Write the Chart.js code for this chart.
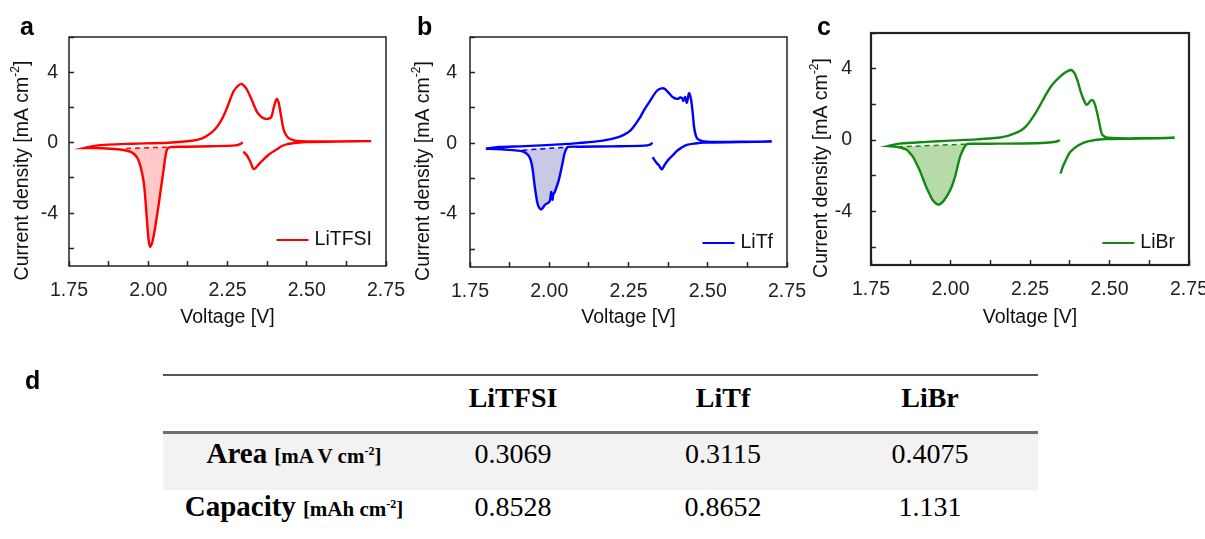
<!DOCTYPE html>
<html>
<head>
<meta charset="utf-8">
<script src="https://cdn.jsdelivr.net/npm/chart.js@4.4.1/dist/chart.umd.min.js"></script>
<style>
  body { margin: 0; background: #fff; }
  #page { position: relative; width: 1205px; height: 539px; overflow: hidden; }
  canvas { position: absolute; top: 0; }
  .letter { position: absolute; font: bold 25px/24px "Liberation Sans", Arial, sans-serif; color: #000; }
  #res { position: absolute; left: 163px; top: 374px; width: 875px; border-collapse: collapse;
         font-family: "Liberation Serif", "Times New Roman", serif; font-size: 28px; color: #000;
         border-top: 2px solid #555; }
  #res td { padding: 0; text-align: center; vertical-align: middle; }
  #res tr.hd td { height: 43px; padding-bottom: 12px; font-weight: bold; border-bottom: 3px solid #6e6e6e; }
  #res tr.r1 td { height: 39px; padding-bottom: 17px; background: #f2f2f2; }
  #res tr.r2 td { height: 30px; padding-top: 0px; }
  #res .lab { white-space: nowrap; }
  #res .lab b { font-size: 29px; }
  #res .lab span { font-size: 21px; font-weight: bold; }
  #res sup { font-size: 12px; }
</style>
</head>
<body>
<div id="page">
  <canvas id="cvA" width="420" height="330" style="left:0px"></canvas>
  <canvas id="cvB" width="420" height="330" style="left:401px"></canvas>
  <canvas id="cvC" width="403" height="330" style="left:802px"></canvas>
  <div class="letter" style="left:20px; top:14px">a</div>
  <div class="letter" style="left:417px; top:14px">b</div>
  <div class="letter" style="left:817px; top:14px">c</div>
  <div class="letter" style="left:25px; top:368px">d</div>
  <table id="res">
    <colgroup><col style="width:262px"><col style="width:176px"><col style="width:244px"><col style="width:193px"></colgroup>
    <tbody></tbody>
  </table>
</div>
<script>
// ---- panel a : LiTFSI ----
const tfsiCathV = [2.298, 2.290, 2.275, 2.20, 2.12, 2.07, 2.060, 2.054, 2.048, 2.040, 2.033, 2.020, 2.012, 2.006, 2.001, 1.996, 1.990, 1.985, 1.975, 1.965, 1.948, 1.917, 1.870, 1.832, 1.800];
const tfsiCathJ = [0.03, -0.08, -0.15, -0.20, -0.23, -0.25, -0.35, -0.8, -1.6, -2.6, -3.5, -5.0, -5.7, -5.9, -5.5, -4.43, -3.0, -2.16, -1.3, -0.85, -0.55, -0.40, -0.33, -0.30, -0.30];
const tfsiAnodV = [1.800, 1.830, 1.873, 1.950, 2.063, 2.138, 2.170, 2.190, 2.210, 2.228, 2.240, 2.250, 2.270, 2.285, 2.296, 2.310, 2.323, 2.334, 2.344, 2.355, 2.365, 2.378, 2.388, 2.396, 2.405, 2.411, 2.416, 2.422, 2.428, 2.436, 2.444, 2.460, 2.481, 2.550, 2.650, 2.703];
const tfsiAnodJ = [-0.30, -0.18, -0.11, -0.06, 0.00, 0.11, 0.25, 0.45, 0.75, 1.20, 1.62, 2.05, 2.95, 3.25, 3.33, 3.05, 2.58, 2.10, 1.72, 1.50, 1.38, 1.36, 1.45, 2.00, 2.48, 2.30, 1.82, 1.20, 0.68, 0.40, 0.25, 0.13, 0.08, 0.07, 0.08, 0.09];
const tfsiRevV = [2.703, 2.600, 2.500, 2.470, 2.439, 2.420, 2.407, 2.390, 2.376, 2.354, 2.333, 2.323, 2.312, 2.300];
const tfsiRevJ = [0.09, 0.06, 0.04, 0.00, -0.08, -0.20, -0.36, -0.55, -0.74, -1.12, -1.50, -1.12, -0.74, -0.50];
const tfsiBaseV = [1.930, 2.062];
const tfsiBaseJ = [-0.33, -0.25];

// ---- panel b : LiTf ----
const tfCathV = [2.326, 2.318, 2.300, 2.200, 2.100, 2.060, 2.055, 2.048, 2.041, 2.029, 2.018, 2.013, 2.010, 2.006, 2.001, 1.987, 1.974, 1.964, 1.955, 1.945, 1.934, 1.913, 1.871, 1.830, 1.800];
const tfCathJ = [0.02, -0.08, -0.14, -0.18, -0.20, -0.21, -0.28, -0.60, -1.21, -2.16, -2.73, -2.90, -3.20, -2.76, -3.30, -3.48, -3.75, -3.48, -2.54, -1.21, -0.68, -0.45, -0.38, -0.33, -0.32];
const tfAnodV = [1.800, 1.840, 1.923, 2.060, 2.100, 2.150, 2.186, 2.215, 2.235, 2.250, 2.265, 2.286, 2.300, 2.318, 2.339, 2.355, 2.366, 2.376, 2.390, 2.405, 2.413, 2.420, 2.423, 2.429, 2.434, 2.441, 2.447, 2.452, 2.457, 2.463, 2.470, 2.497, 2.600, 2.702];
const tfAnodJ = [-0.32, -0.22, -0.17, -0.04, 0.02, 0.10, 0.20, 0.33, 0.47, 0.62, 0.90, 1.44, 1.90, 2.39, 2.95, 3.10, 3.05, 2.86, 2.60, 2.50, 2.58, 2.52, 2.39, 2.61, 2.29, 2.82, 2.50, 1.80, 0.90, 0.40, 0.21, 0.08, 0.08, 0.09];
const tfRevV = [2.702, 2.600, 2.490, 2.460, 2.434, 2.415, 2.402, 2.390, 2.376, 2.365, 2.355, 2.347, 2.339, 2.326];
const tfRevJ = [0.09, 0.06, 0.03, -0.02, -0.10, -0.28, -0.45, -0.68, -0.93, -1.20, -1.48, -1.28, -1.12, -0.80];
const tfBaseV = [1.915, 2.052];
const tfBaseJ = [-0.40, -0.23];

// ---- panel c : LiBr ----
const brCathV = [2.344, 2.335, 2.300, 2.225, 2.150, 2.060, 2.050, 2.045, 2.038, 2.030, 2.022, 2.014, 2.004, 1.993, 1.975, 1.961, 1.945, 1.935, 1.924, 1.913, 1.903, 1.892, 1.882, 1.871, 1.861, 1.845, 1.829, 1.803];
const brCathJ = [0.00, -0.08, -0.15, -0.19, -0.20, -0.21, -0.24, -0.35, -0.60, -0.94, -1.50, -2.07, -2.60, -3.01, -3.48, -3.62, -3.39, -3.05, -2.64, -2.15, -1.69, -1.28, -0.94, -0.70, -0.53, -0.43, -0.38, -0.34];
const brAnodV = [1.803, 1.840, 1.924, 2.000, 2.082, 2.150, 2.180, 2.200, 2.220, 2.238, 2.256, 2.272, 2.288, 2.305, 2.320, 2.346, 2.362, 2.379, 2.390, 2.400, 2.409, 2.418, 2.427, 2.434, 2.440, 2.448, 2.455, 2.465, 2.472, 2.478, 2.494, 2.600, 2.705];
const brAnodJ = [-0.34, -0.20, -0.10, -0.03, 0.04, 0.13, 0.24, 0.36, 0.52, 0.78, 1.20, 1.65, 2.16, 2.70, 3.10, 3.58, 3.80, 3.93, 3.75, 3.30, 2.73, 2.30, 1.98, 2.05, 2.20, 2.22, 1.95, 1.22, 0.60, 0.28, 0.13, 0.10, 0.13];
const brRevV = [2.705, 2.600, 2.488, 2.435, 2.404, 2.377, 2.360, 2.352, 2.346];
const brRevJ = [0.13, 0.08, 0.06, -0.06, -0.28, -0.66, -1.22, -1.55, -1.88];
const brBaseV = [1.834, 2.045];
const brBaseJ = [-0.38, -0.23];

// ---- table d ----
const salts = ["LiTFSI", "LiTf", "LiBr"];
const areaVals = ["0.3069", "0.3115", "0.4075"];
const capVals = ["0.8528", "0.8652", "1.131"];

const FONT = '"Liberation Sans", Arial, sans-serif';
const FS = 19.5;

function pts(v, j) {
  return v.map((x, i) => ({ x: x, y: j[i] }));
}

// frame, legend and y title (with superscript) drawn on top
const cvDecor = {
  id: "cvDecor",
  afterDraw(chart, args, opts) {
    const { ctx, chartArea: a } = chart;
    const main = chart.data.datasets[2];
    ctx.save();
    ctx.strokeStyle = "#222";
    ctx.lineWidth = opts.frame;
    ctx.strokeRect(a.left, a.top, a.right - a.left, a.bottom - a.top);

    // legend
    ctx.font = FS + "px " + FONT;
    ctx.fillStyle = "#111";
    ctx.textAlign = "right";
    ctx.textBaseline = "middle";
    const ty = a.bottom - opts.legendDy;
    const tx = a.right - 14;
    ctx.fillText(main.label, tx, ty);
    const tw = ctx.measureText(main.label).width;
    ctx.strokeStyle = main.borderColor;
    ctx.lineWidth = 2.2;
    ctx.beginPath();
    ctx.moveTo(tx - tw - 6, ty);
    ctx.lineTo(tx - tw - 38, ty);
    ctx.stroke();

    // y title
    const t1 = "Current density [mA cm", t2 = "-2", t3 = "]";
    ctx.translate(a.left - opts.titleDx, (a.top + a.bottom) / 2 + 19);
    ctx.rotate(-Math.PI / 2);
    ctx.textAlign = "left";
    ctx.font = FS + "px " + FONT;
    const w1 = ctx.measureText(t1).width, w3 = ctx.measureText(t3).width;
    ctx.font = "12px " + FONT;
    const w2 = ctx.measureText(t2).width;
    let x = -(w1 + w2 + w3) / 2;
    ctx.font = FS + "px " + FONT;
    ctx.fillText(t1, x, 0);
    x += w1;
    ctx.font = "12px " + FONT;
    ctx.fillText(t2, x, -7);
    x += w2;
    ctx.font = FS + "px " + FONT;
    ctx.fillText(t3, x, 0);
    ctx.restore();
  },
};

function makePanel(id, p) {
  const cath = pts(p.cathV, p.cathJ);
  const trace = cath.concat(pts(p.anodV, p.anodJ), pts(p.revV, p.revJ));
  const base = pts(p.baseV, p.baseJ);
  // shaded reduction peak: cathodic points over the baseline span, closed by the baseline
  const lo = p.baseV[0], hi = p.baseV[p.baseV.length - 1];
  const shade = cath.filter((q) => q.x >= lo && q.x <= hi).concat(base);

  return new Chart(document.getElementById(id).getContext("2d"), {
    type: "scatter",
    data: {
      datasets: [
        {
          label: "",
          data: shade,
          showLine: true,
          fill: "shape",
          backgroundColor: p.fill,
          borderWidth: 0,
          pointRadius: 0,
          tension: 0.3,
          order: 3,
        },
        {
          label: "",
          data: base,
          showLine: true,
          borderColor: p.color,
          borderWidth: 1.5,
          borderDash: [5, 4],
          pointRadius: 0,
          order: 2,
        },
        {
          label: p.label,
          data: trace,
          showLine: true,
          borderColor: p.color,
          borderWidth: 2.4,
          pointRadius: 0,
          tension: 0.3,
          order: 1,
        },
      ],
    },
    options: {
      responsive: false,
      animation: false,
      layout: { padding: { top: p.top, right: p.right, left: 0, bottom: 0 } },
      plugins: {
        legend: { display: false },
        tooltip: { enabled: false },
        cvDecor: { frame: p.frame, legendDy: p.legendDy, titleDx: p.titleDx },
      },
      scales: {
        x: {
          type: "linear",
          min: 1.75,
          max: 2.75,
          border: { display: false },
          grid: { drawOnChartArea: false, tickLength: -5, tickColor: "#222", tickWidth: 1.5 },
          ticks: {
            stepSize: 0.125,
            includeBounds: false,
            autoSkip: false,
            maxRotation: 0,
            padding: 18,
            color: "#222",
            font: { size: FS, family: FONT },
            callback: (v) => (Math.abs(v * 4 - Math.round(v * 4)) < 1e-9 ? v.toFixed(2) : ""),
          },
          title: {
            display: true,
            text: "Voltage [V]",
            color: "#111",
            font: { size: FS, family: FONT },
            padding: { top: 0, bottom: 1 },
          },
          afterFit: (s) => {
            s.height = p.xh;
            s.paddingLeft = 0;
            s.paddingRight = 0;
          },
        },
        y: {
          min: -7,
          max: 6,
          border: { display: false },
          grid: { drawOnChartArea: false, tickLength: -5, tickColor: "#222", tickWidth: 1.5 },
          ticks: {
            stepSize: 2,
            includeBounds: false,
            padding: p.ypad,
            color: "#222",
            font: { size: FS, family: FONT },
            callback: (v) => (v % 4 === 0 ? String(v) : ""),
          },
          afterFit: (s) => {
            s.width = 69;
            s.paddingTop = 0;
            s.paddingBottom = 0;
          },
        },
      },
    },
    plugins: [cvDecor],
  });
}

makePanel("cvA", {
  label: "LiTFSI", color: "#ff0000", fill: "#ffc9c9",
  cathV: tfsiCathV, cathJ: tfsiCathJ, anodV: tfsiAnodV, anodJ: tfsiAnodJ, revV: tfsiRevV, revJ: tfsiRevJ,
  baseV: tfsiBaseV, baseJ: tfsiBaseJ,
  top: 37, right: 34, xh: 64, ypad: 16, frame: 1.5, legendDy: 26, titleDx: 46,
});
makePanel("cvB", {
  label: "LiTf", color: "#0000ff", fill: "#c9c9e6",
  cathV: tfCathV, cathJ: tfCathJ, anodV: tfAnodV, anodJ: tfAnodJ, revV: tfRevV, revJ: tfRevJ,
  baseV: tfBaseV, baseJ: tfBaseJ,
  top: 37, right: 34, xh: 63, ypad: 18, frame: 1.5, legendDy: 24, titleDx: 46,
});
makePanel("cvC", {
  label: "LiBr", color: "#128a12", fill: "#b6dba9",
  cathV: brCathV, cathJ: brCathJ, anodV: brAnodV, anodJ: brAnodJ, revV: brRevV, revJ: brRevJ,
  baseV: brBaseV, baseJ: brBaseJ,
  top: 33, right: 16, xh: 65, ypad: 24, frame: 2.2, legendDy: 22, titleDx: 49,
});

// table d
const tb = document.querySelector("#res tbody");
let html = '<tr class="hd"><td></td>' + salts.map((s) => "<td>" + s + "</td>").join("") + "</tr>";
html += '<tr class="r1"><td class="lab"><b>Area</b> <span>[mA V cm<sup>-2</sup>]</span></td>' +
  areaVals.map((s) => "<td>" + s + "</td>").join("") + "</tr>";
html += '<tr class="r2"><td class="lab"><b>Capacity</b> <span>[mAh cm<sup>-2</sup>]</span></td>' +
  capVals.map((s) => "<td>" + s + "</td>").join("") + "</tr>";
tb.innerHTML = html;
// last column text sits a bit left of the rule end
tb.querySelectorAll("tr").forEach((r) => (r.lastElementChild.style.paddingRight = "23px"));
</script>
</body>
</html>
